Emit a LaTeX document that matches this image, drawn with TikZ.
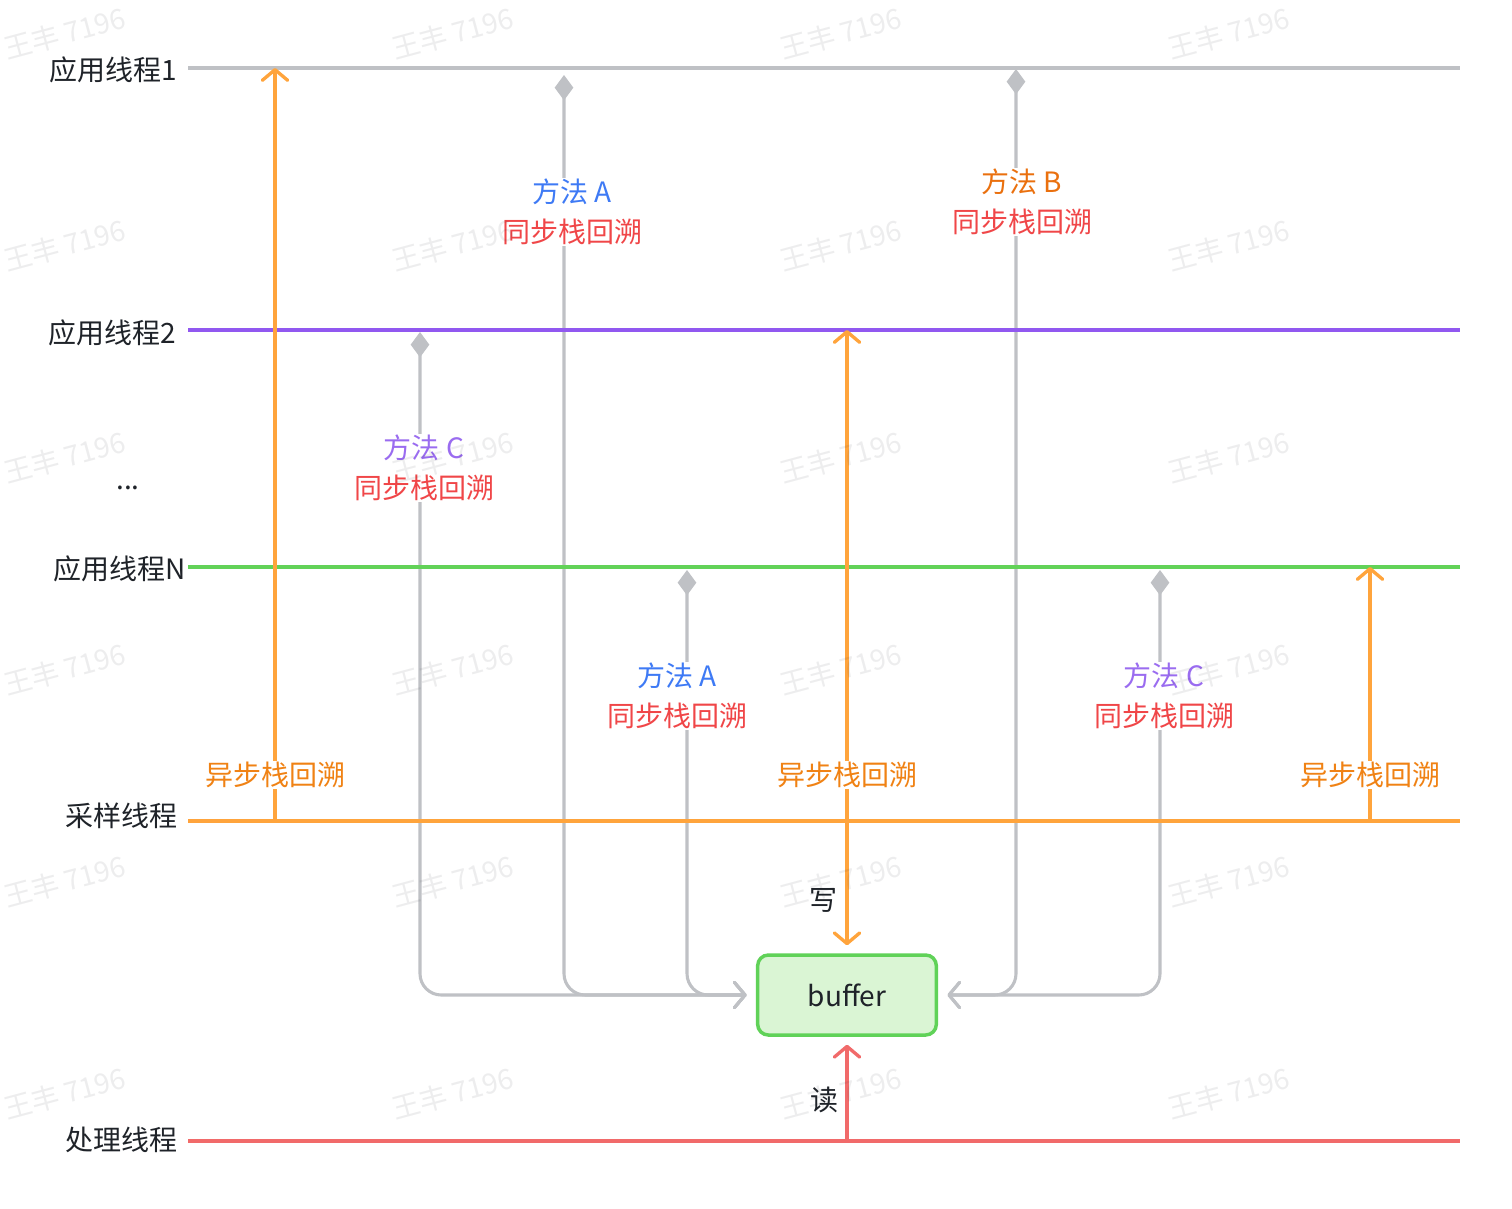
\documentclass[tikz,border=0pt]{standalone}
\usepackage{fontspec}
\setmainfont{Noto Sans CJK SC}
\usetikzlibrary{arrows.meta}

\definecolor{lgray}{RGB}{191,193,197}
\definecolor{lpurple}{RGB}{145,88,240}
\definecolor{lgreen}{RGB}{98,210,88}
\definecolor{lorange}{RGB}{255,164,60}
\definecolor{lred}{RGB}{241,106,106}
\definecolor{ink}{RGB}{31,35,41}
\definecolor{tblue}{RGB}{62,122,245}
\definecolor{tred}{RGB}{240,70,72}
\definecolor{torange}{RGB}{234,112,14}
\definecolor{tasync}{RGB}{240,130,20}
\definecolor{tpurple}{RGB}{154,108,240}
\definecolor{bufbg}{RGB}{218,245,212}
\definecolor{bufline}{RGB}{96,210,88}

\tikzset{every picture/.style={line width=0.75pt}}
\tikzset{
  barb/.tip={Straight Barb[length=8pt,width=19pt,line cap=round,line join=round]},
  lane/.style={line width=2.7pt},
  sync/.style={draw=lgray,line width=2.3pt,rounded corners=16pt,
    {Diamond[length=19pt,width=14pt]}-barb},
  async/.style={draw=lorange,line width=2.5pt,-barb},
  txt/.style={text=ink,font=\fontsize{21pt}{30pt}\selectfont},
  mlabel/.style={fill=white,align=center,inner sep=1pt,font=\fontsize{21pt}{30pt}\selectfont},
  wmark/.style={text=ink,text opacity=0.08,rotate=15,font=\fontsize{21pt}{24pt}\selectfont},
  bufbox/.style={draw=bufline,fill=bufbg,line width=2.6pt,rounded corners=8pt,
    minimum width=134pt,minimum height=60pt,text=ink,font=\fontsize{21pt}{24pt}\selectfont}
}

\begin{document}
\begin{tikzpicture}[x=0.75pt,y=0.75pt,yscale=-1,xscale=1]
	\fill[white] (0,0) rectangle (1512,1208);
	\useasboundingbox (0,0) rectangle (1512,1208);

	% Text Node
	\node[txt] (th1) at (113,70) {应用线程1};
	% Text Node
	\node[txt] (th2) at (112,333) {应用线程2};
	% Text Node
	\node[txt] (dots) at (128,488) {...};
	% Text Node
	\node[txt] (thN) at (120,569) {应用线程N};
	% Text Node
	\node[txt] (samp) at (121,816) {采样线程};
	% Text Node
	\node[txt] (proc) at (121,1140) {处理线程};

	% buffer
	\node[bufbox] (buf) at (847,995) {buffer};

	% lane ends
	\coordinate (l1w) at (188,68);   \coordinate (l1e) at (1460,68);
	\coordinate (l2w) at (188,330);  \coordinate (l2e) at (1460,330);
	\coordinate (lNw) at (188,567);  \coordinate (lNe) at (1460,567);
	\coordinate (lSw) at (188,821);  \coordinate (lSe) at (1460,821);
	\coordinate (lPw) at (188,1141); \coordinate (lPe) at (1460,1141);

	% sync tops
	\coordinate (tA1) at (564,75);
	\coordinate (tB) at (1016,69);
	\coordinate (tC2) at (420,332);
	\coordinate (tA2) at (687,570);
	\coordinate (tC3) at (1160,570);

	%Straight Lines (sync)
	\draw[sync,shorten >=7pt] (tC2) |- (buf.west);
	\draw[sync,shorten >=7pt] (tA1) |- (buf.west);
	\draw[sync,shorten >=7pt] (tA2) |- (buf.west);
	\draw[sync,shorten >=7pt] (tB) |- (buf.east);
	\draw[sync,shorten >=7pt] (tC3) |- (buf.east);

	%Straight Lines (lanes)
	\draw[lane,lgray] (l1w) -- (l1e);
	\draw[lane,lpurple] (l2w) -- (l2e);
	\draw[lane,lgreen] (lNw) -- (lNe);
	\draw[lane,lorange] (lSw) -- (lSe);
	\draw[lane,lred] (lPw) -- (lPe);

	% async points on sampling lane
	\coordinate (s1) at (275,821);
	\coordinate (s2) at (847,821);
	\coordinate (s3) at (1370,821);
	\coordinate (p1) at (847,1141);

	%Straight Lines (async)
	\draw[async] (s1) -- (s1 |- l1w);
	\draw[async] (s2) -- (s2 |- l2w);
	\draw[async] (s3) -- (s3 |- lNw);
	\draw[async,shorten >=6pt] (s2) -- (buf.north);
	\draw[async,draw=lred,shorten >=6pt] (p1) -- (buf.south);

	% Text Node
	\node[mlabel] (mA1) at (572,212) {\textcolor{tblue}{方法 A}\\\textcolor{tred}{同步栈回溯}};
	% Text Node
	\node[mlabel] (mB) at (1022,202) {\textcolor{torange}{方法 B}\\\textcolor{tred}{同步栈回溯}};
	% Text Node
	\node[mlabel] (mC2) at (424,468) {\textcolor{tpurple}{方法 C}\\\textcolor{tred}{同步栈回溯}};
	% Text Node
	\node[mlabel] (mA2) at (677,696) {\textcolor{tblue}{方法 A}\\\textcolor{tred}{同步栈回溯}};
	% Text Node
	\node[mlabel] (mC3) at (1164,696) {\textcolor{tpurple}{方法 C}\\\textcolor{tred}{同步栈回溯}};
	% Text Node
	\node[mlabel,text=tasync] (as1) at (275,775) {异步栈回溯};
	% Text Node
	\node[mlabel,text=tasync] (as2) at (847,775) {异步栈回溯};
	% Text Node
	\node[mlabel,text=tasync] (as3) at (1370,775) {异步栈回溯};
	% Text Node
	\node[txt] (wr) at (823,900) {写};
	% Text Node
	\node[txt] (rd) at (824,1100) {读};

	% watermark
	\foreach \wx in {65,453,841,1229}
	  \foreach \wy in {33,245,457,669,881,1093}
	    \node[wmark] (wm-\wx-\wy) at (\wx,\wy) {王丰 7196};
\end{tikzpicture}
\end{document}
